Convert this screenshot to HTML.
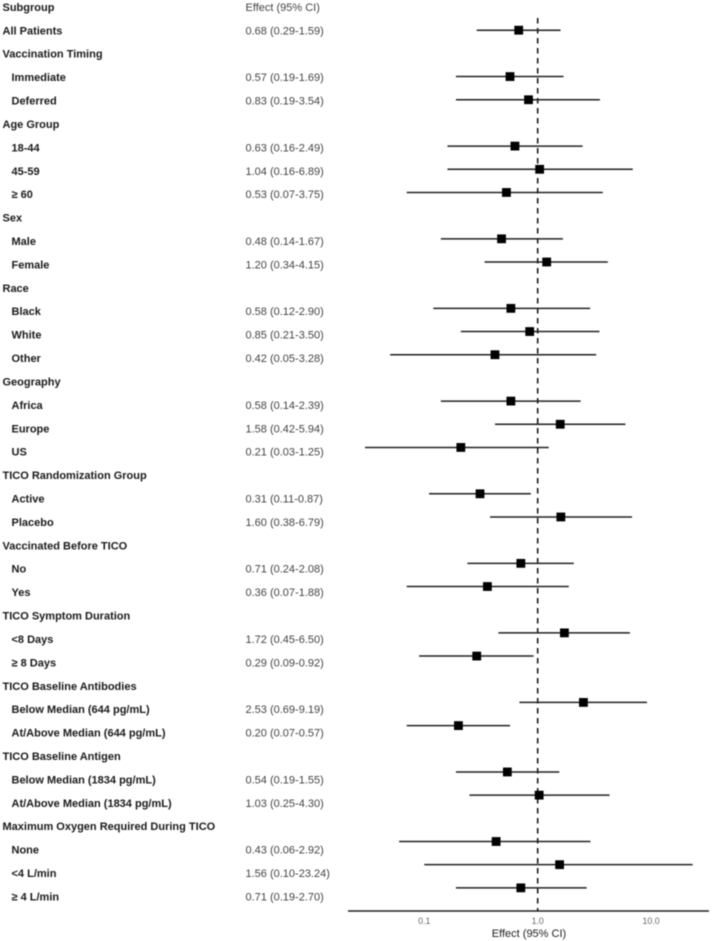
<!DOCTYPE html>
<html>
<head>
<meta charset="utf-8">
<style>
html,body{margin:0;padding:0;background:#fff}
svg{display:block}
text{font-family:"Liberation Sans",Arial,sans-serif}
</style>
</head>
<body>
<svg id="chart" xmlns="http://www.w3.org/2000/svg" width="714" height="941" viewBox="0 0 714 941">
<defs><filter id="soft" x="-5%" y="-5%" width="110%" height="110%"><feGaussianBlur stdDeviation="0.4"/></filter></defs>
<g id="root" filter="url(#soft)"></g>
</svg>
<script>
const rowLabels = ["All Patients","Vaccination Timing","Immediate","Deferred","Age Group","18-44","45-59","≥ 60","Sex","Male","Female","Race","Black","White","Other","Geography","Africa","Europe","US","TICO Randomization Group","Active","Placebo","Vaccinated Before TICO","No","Yes","TICO Symptom Duration","<8 Days","≥ 8 Days","TICO Baseline Antibodies","Below Median (644 pg/mL)","At/Above Median (644 pg/mL)","TICO Baseline Antigen","Below Median (1834 pg/mL)","At/Above Median (1834 pg/mL)","Maximum Oxygen Required During TICO","None","<4 L/min","≥ 4 L/min"];
const rowIndented = [0,0,1,1,0,1,1,1,0,1,1,0,1,1,1,0,1,1,1,0,1,1,0,1,1,0,1,1,0,1,1,0,1,1,0,1,1,1];
const effects = [0.68,null,0.57,0.83,null,0.63,1.04,0.53,null,0.48,1.20,null,0.58,0.85,0.42,null,0.58,1.58,0.21,null,0.31,1.60,null,0.71,0.36,null,1.72,0.29,null,2.53,0.20,null,0.54,1.03,null,0.43,1.56,0.71];
const lowers = [0.29,null,0.19,0.19,null,0.16,0.16,0.07,null,0.14,0.34,null,0.12,0.21,0.05,null,0.14,0.42,0.03,null,0.11,0.38,null,0.24,0.07,null,0.45,0.09,null,0.69,0.07,null,0.19,0.25,null,0.06,0.10,0.19];
const uppers = [1.59,null,1.69,3.54,null,2.49,6.89,3.75,null,1.67,4.15,null,2.90,3.50,3.28,null,2.39,5.94,1.25,null,0.87,6.79,null,2.08,1.88,null,6.50,0.92,null,9.19,0.57,null,1.55,4.30,null,2.92,23.24,2.70];
const xTicks = [0.1,1,10];
const xTickLabels = ["0.1","1.0","10.0"];
const refValue = 1;

const NS = "http://www.w3.org/2000/svg";
const root = document.getElementById("root");
function xScale(v){ return 537.7 + 113.4 * Math.log10(v); }
function markY(i){ return 30.2 + 23.18 * i; }
function textY(i){ return 30.5 + 23.41 * i; }
function add(tag, attrs, txt, parent){
  const el = document.createElementNS(NS, tag);
  for (const k in attrs) el.setAttribute(k, attrs[k]);
  if (txt !== undefined) el.textContent = txt;
  (parent || root).appendChild(el);
  return el;
}
const fs = 11;
const h1 = add("text",{x:2.5,y:textY(-1)+3.8,"font-size":fs,"font-weight":"bold",fill:"#1a1a1a"},"Subgroup");


const h2 = add("text",{x:245.5,y:textY(-1)+3.8,"font-size":fs,fill:"#444"},"Effect (95% CI)");



const refLine = add("line",{x1:xScale(refValue),x2:xScale(refValue),y1:18,y2:911,stroke:"#111","stroke-width":1.5,"stroke-dasharray":"5.5 4.5"});



rowLabels.forEach(function(label,i){
  const t = add("text",{x:rowIndented[i]?11.5:2.5,y:textY(i)+3.8,"font-size":fs,"font-weight":"bold",fill:"#1a1a1a"},label);
  
  
  if (effects[i] === null) return;
  const v = add("text",{x:245.5,y:textY(i)+3.8,"font-size":fs,fill:"#444"},
    effects[i].toFixed(2)+" ("+lowers[i].toFixed(2)+"-"+uppers[i].toFixed(2)+")");
  
  
  const ci = add("line",{x1:xScale(lowers[i]),x2:xScale(uppers[i]),y1:markY(i),y2:markY(i),stroke:"#222","stroke-width":1.5});
  
  
  const m = add("rect",{x:xScale(effects[i])-4.4,y:markY(i)-4.4,width:8.8,height:8.8,fill:"#000"});
  
  
});

const axis = add("line",{x1:348,x2:709,y1:911,y2:911,stroke:"#222","stroke-width":1.5});


xTicks.forEach(function(v,i){
  const t = add("text",{x:xScale(v),y:924,"font-size":8.8,fill:"#666","text-anchor":"middle"},xTickLabels[i]);
  
  
});
const xt = add("text",{x:529,y:937,"font-size":11,fill:"#222","text-anchor":"middle"},"Effect (95% CI)");


</script>
</body>
</html>
